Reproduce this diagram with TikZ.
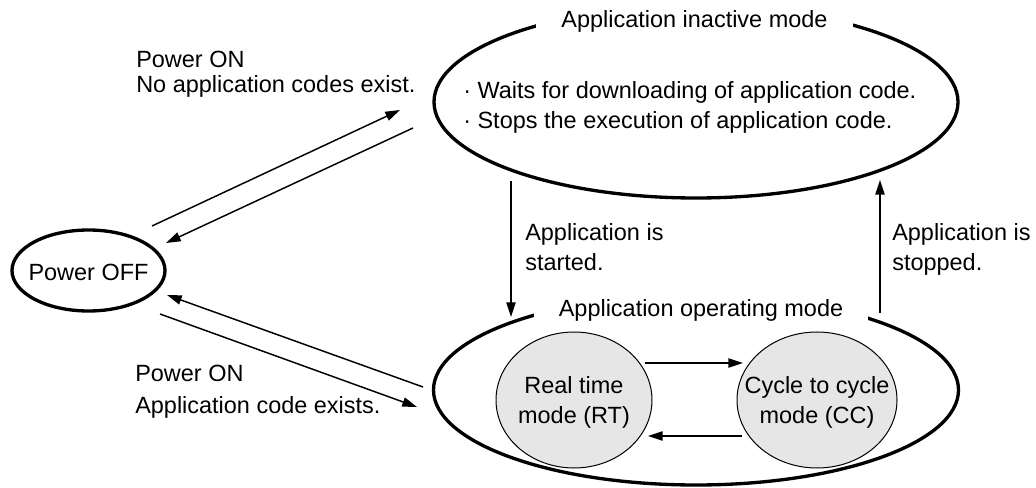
\documentclass[tikz,border=0pt]{standalone}
\usepackage{fontspec}
\setmainfont{Liberation Sans}
\usetikzlibrary{shapes.geometric,arrows.meta}
\definecolor{modegray}{RGB}{230,230,230}
\tikzset{
  modebox/.style={ellipse, draw, line width=2.5pt, inner sep=0pt},
  submode/.style={ellipse, draw, line width=0.75pt, fill=modegray, inner sep=0pt, minimum height=102pt},
  modetitle/.style={fill=white, inner xsep=18.75pt, inner ysep=0pt, minimum height=30pt},
  lbl/.style={inner sep=0pt, align=left, anchor=west},
  transition/.style={line width=1.1pt, -{Triangle[length=11pt,width=7pt]}},
  every label/.style={align=center, yshift=-1.5pt},
}
\begin{document}
\begin{tikzpicture}[x=0.75pt,y=0.75pt,yscale=-1,xscale=1,
  every node/.style={font=\fontsize{17.6}{22.5}\selectfont}]
\useasboundingbox (0,0) rectangle (1036,488);

%States
\node[modebox, minimum width=114.75pt, minimum height=60.75pt, label={center:Power OFF}] (poweroff) at (88.5,270.5) {};
\node[modebox, minimum width=393pt, minimum height=144pt] (inactive) at (696,102) {};
\node[modebox, minimum width=393.75pt, minimum height=142.5pt] (operating) at (696,390) {};
\node[submode, minimum width=117pt, label={center:Real time\\mode (RT)}] (rt) at (574,400) {};
\node[submode, minimum width=120pt, label={center:Cycle to cycle\\mode (CC)}] (cc) at (817,400) {};

% Text Node
\node[modetitle] (inactivetitle) at (694.5,21.3) {Application inactive mode};
\node[modetitle] (operatingtitle) at (701,310) {Application operating mode};
\node[lbl] (tasks) at (463,107.5) {· Waits for downloading of application code.\\· Stops the execution of application code.};
\node[lbl] (noapp) at (136,74.6) {Power ON\\[-3.75pt]No application codes exist.};
\node[lbl] (withapp) at (135,392) {Power ON\\[1.5pt]Application code exists.};
\node[lbl] (started) at (525,247) {Application is\\started.};
\node[lbl] (stopped) at (892,249) {Application is\\stopped.};

%Connector ends
\coordinate (offup) at (152,226);
\coordinate (inactivein) at (400,110);
\coordinate (inactiveout) at (413,128);
\coordinate (offin) at (166,243);
\coordinate (operatingout) at (423,387);
\coordinate (offback) at (167,295);
\coordinate (offdown) at (160,314);
\coordinate (operatingin) at (417,407);
\coordinate (startfrom) at (511,181);
\coordinate (startto) at (511,317);
\coordinate (stopfrom) at (880,313);
\coordinate (stopto) at (880,180);
\coordinate (rtout) at (645,363);
\coordinate (ccin) at (743,363);
\coordinate (ccout) at (742,436);
\coordinate (rtin) at (648,436);

%Transitions
\draw[transition] (offup) -- (inactivein);
\draw[transition] (inactiveout) -- (offin);
\draw[transition] (operatingout) -- (offback);
\draw[transition] (offdown) -- (operatingin);
\draw[transition] (startfrom) -- (startto);
\draw[transition] (stopfrom) -- (stopto);
\draw[transition] (rtout) -- (ccin);
\draw[transition] (ccout) -- (rtin);

\end{tikzpicture}
\end{document}
